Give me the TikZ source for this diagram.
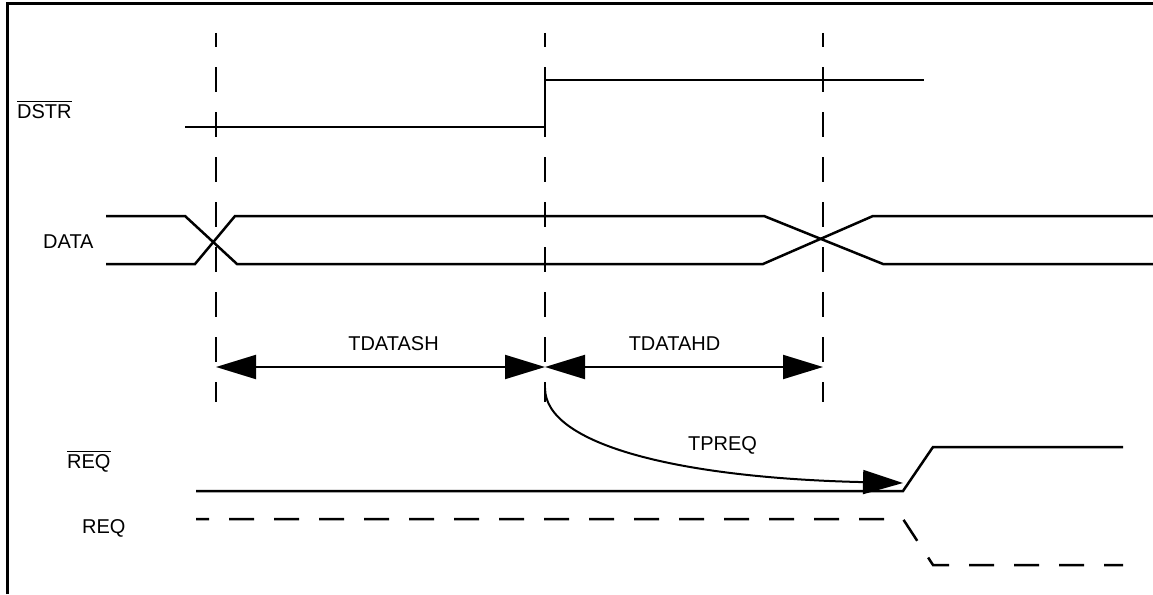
\documentclass[tikz,border=0pt]{standalone}
\usepackage{amsmath}
\usepackage{fontspec}
\setmainfont{Liberation Sans}
\usetikzlibrary{arrows.meta}

\tikzset{
  sig/.style={line width=2.5pt},
  guide/.style={line width=2pt, dash pattern=on 25pt off 20pt, dash phase=11pt},
  reqdash/.style={line width=2.5pt, dash pattern=on 25pt off 20pt, dash phase=12pt},
  dim/.style={line width=2pt},
  lbl/.style={inner sep=0pt, font=\fontsize{20}{24}\selectfont}
}

\begin{document}
\begin{tikzpicture}[x=1pt,y=-1pt,>={Triangle[length=40pt,width=24pt]}]
  \useasboundingbox (0,0) rectangle (1153,594);
  \draw[line width=3pt] (7,594) -- (7,4) -- (1153,4);

  % guide lines
  \draw[guide] (216,33) -- (216,402);
  \draw[guide] (545,33) -- (545,402);
  \draw[guide] (823,33) -- (823,402);

  % labels
  \node[lbl,anchor=base west] (dstrlbl) at (17,118) {$\overline{\text{DSTR}}$};
  \node[lbl,anchor=base west] (datalbl) at (43,248) {DATA};
  \node[lbl,anchor=base west] (reqnlbl) at (67,468) {$\overline{\text{REQ}}$};
  \node[lbl,anchor=base west] (reqlbl) at (82,533) {REQ};
  \node[lbl,anchor=base] (tsh) at (393.5,350) {TDATASH};
  \node[lbl,anchor=base] (thd) at (674.5,350) {TDATAHD};
  \node[lbl,anchor=base] (tpreq) at (722.5,450) {TPREQ};

  % DSTR
  \draw[sig] (185,127) -- (545,127) -- (545,80) -- (924,80);

  % DATA
  \draw[sig] (106,216) -- (185,216) -- (237,264) -- (763,264) -- (873,216) -- (1153,216);
  \draw[sig] (106,264) -- (195,264) -- (235,216) -- (764,216) -- (883,264) -- (1153,264);

  % REQ signals
  \draw[sig] (196,491) -- (903,491) -- (933,447) -- (1123,447);
  \draw[reqdash] (196,519) -- (903,519) -- (933,565) -- (1123,565);

  % timing marks
  \coordinate (ma) at (216,367);
  \coordinate (mb) at (545,367);
  \coordinate (mc) at (823,367);
  \coordinate (cs) at (545,388);
  \coordinate (ce) at (903,483);
  \draw[dim,<->] (ma) -- (mb);
  \draw[dim,<->] (mb) -- (mc);
  \draw[dim,->] (cs) .. controls (545,445) and (680,478) .. (ce);
\end{tikzpicture}
\end{document}
